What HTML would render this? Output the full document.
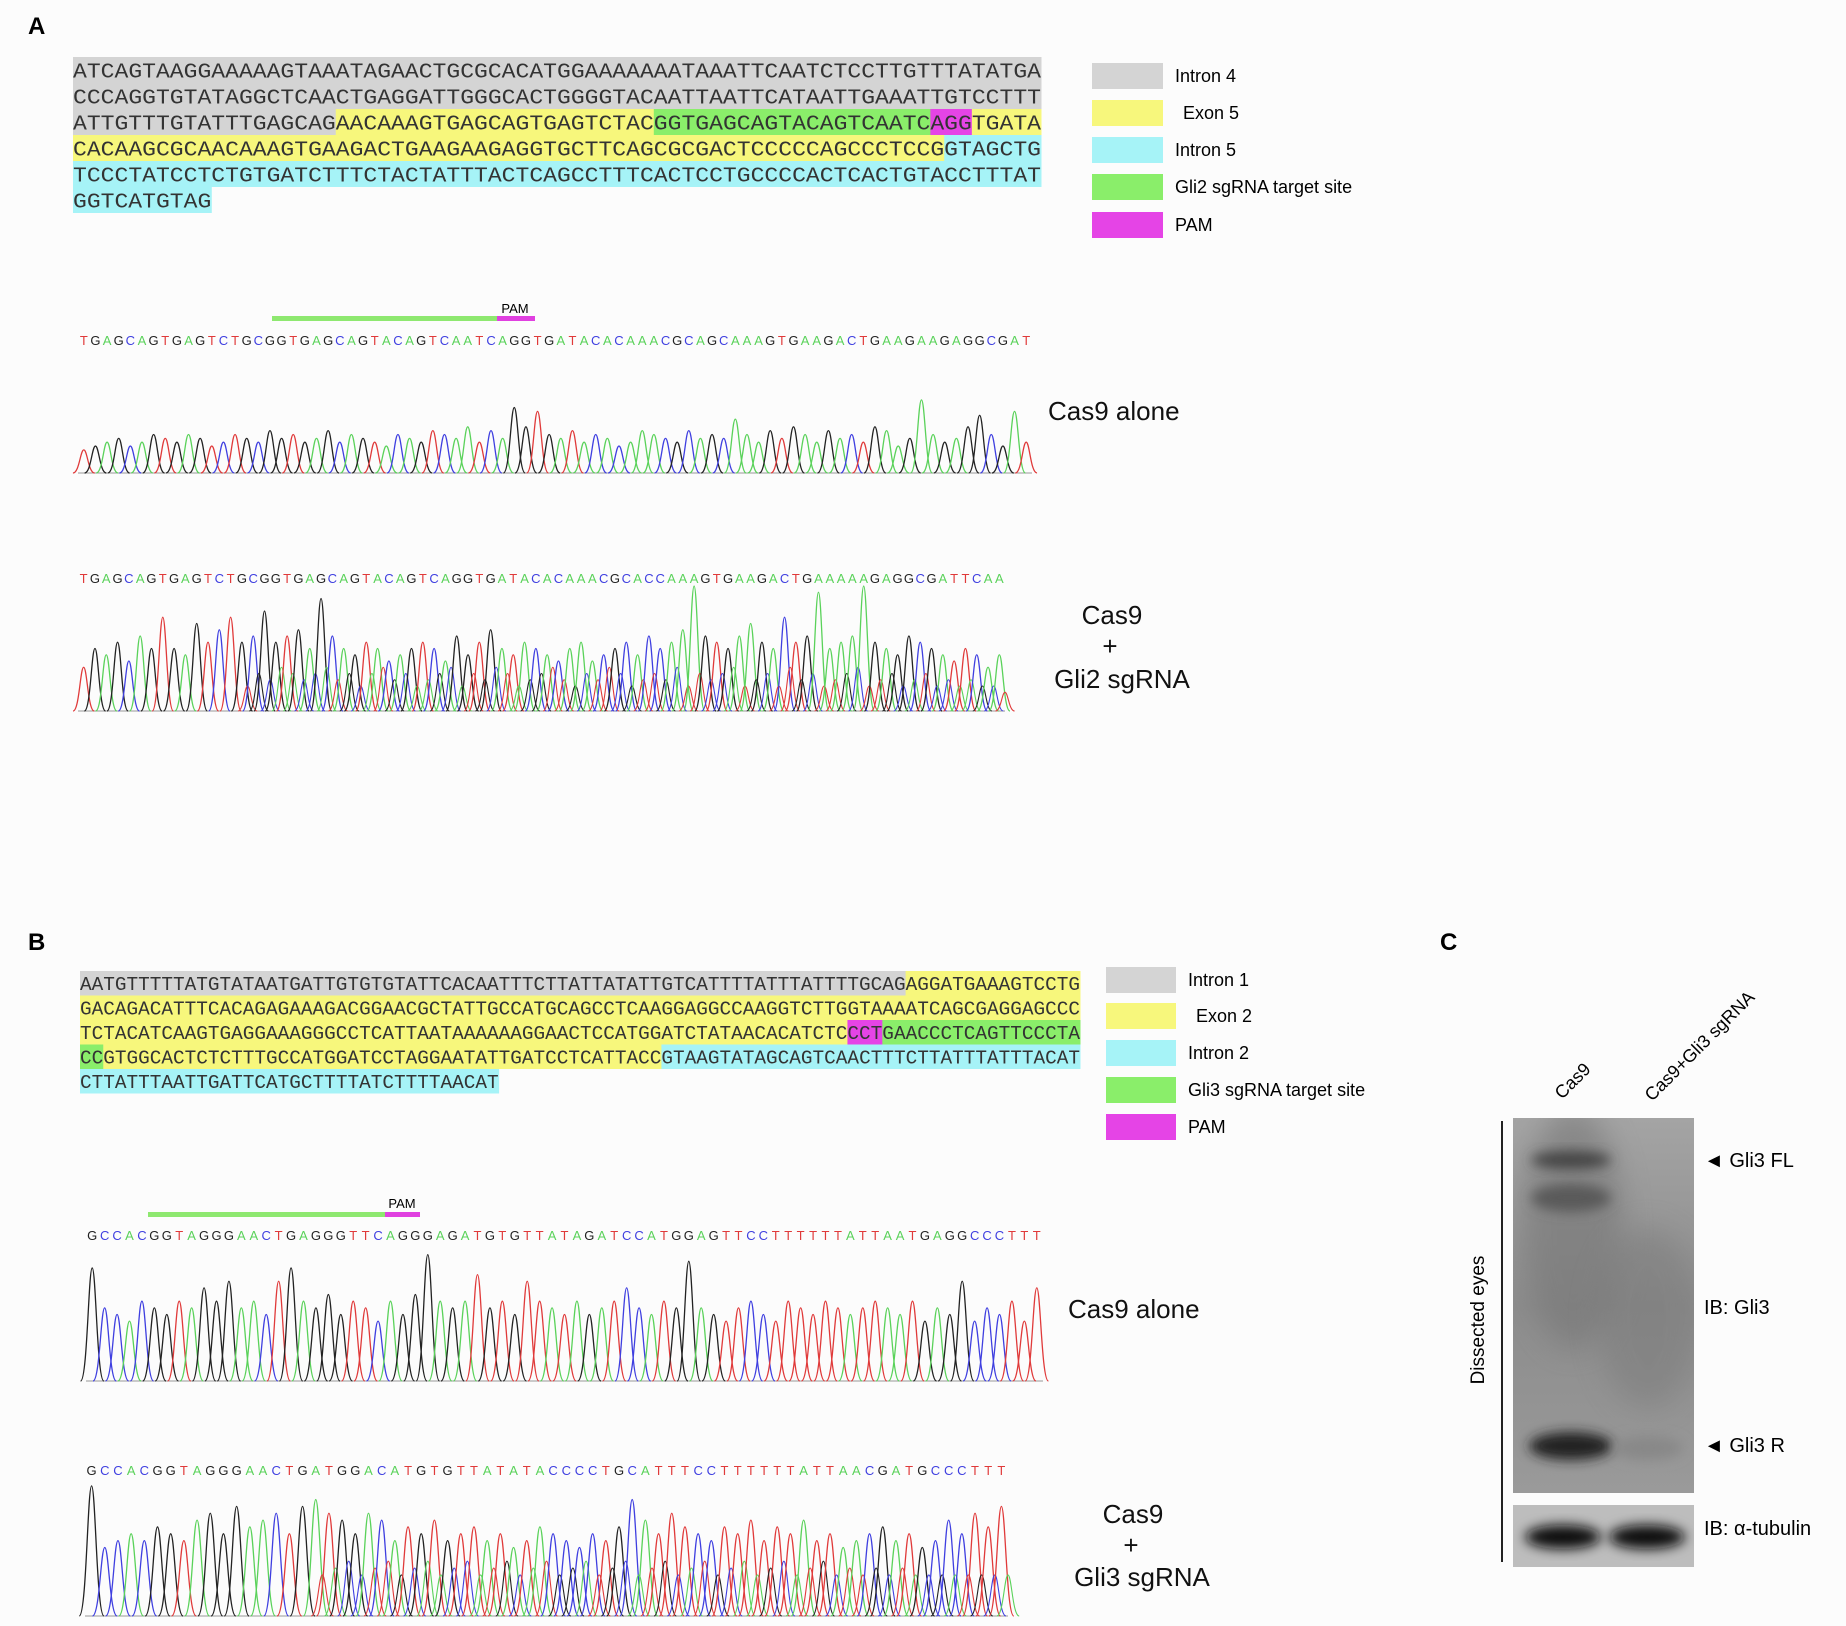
<!DOCTYPE html>
<html><head><meta charset="utf-8"><style>
html,body{margin:0;padding:0;background:#fcfcfc}
svg{display:block}
text{font-family:"Liberation Sans",sans-serif}
.seq{font-family:"Liberation Mono",monospace;fill:#333}
</style></head><body>
<svg id="fig" width="1846" height="1626" viewBox="0 0 1846 1626" xmlns="http://www.w3.org/2000/svg">
<defs>
<filter id="blur6" x="-50%" y="-50%" width="200%" height="200%"><feGaussianBlur stdDeviation="6"/></filter>
<filter id="blur14" x="-50%" y="-50%" width="200%" height="200%"><feGaussianBlur stdDeviation="14"/></filter>
<linearGradient id="blotg" x1="0" y1="0" x2="0" y2="1"><stop offset="0" stop-color="#a4a4a4"/><stop offset="0.5" stop-color="#8c8c8c"/><stop offset="1" stop-color="#9a9a9a"/></linearGradient>
</defs>
<rect width="1846" height="1626" fill="#fcfcfc"/>
<g font-weight="bold" font-size="24">
<text x="28" y="34">A</text>
<text x="28" y="950">B</text>
<text x="1440" y="950">C</text>
</g>
<g id="seqA"></g>
<g id="seqB"></g>
<g id="legA"></g>
<g id="legB"></g>
<g id="chroms"></g>
<g font-size="26" fill="#111">
<text x="1048" y="420">Cas9 alone</text>
<text x="1112" y="624" text-anchor="middle">Cas9</text>
<text x="1110" y="655" text-anchor="middle">+</text>
<text x="1122" y="688" text-anchor="middle">Gli2 sgRNA</text>
<text x="1068" y="1318">Cas9 alone</text>
<text x="1133" y="1523" text-anchor="middle">Cas9</text>
<text x="1131" y="1554" text-anchor="middle">+</text>
<text x="1142" y="1586" text-anchor="middle">Gli3 sgRNA</text>
</g>
<!-- target bars -->
<g>
<rect x="272" y="316" width="225" height="5" fill="#8ee870"/>
<rect x="497" y="316" width="38" height="5" fill="#e040e0"/>
<text x="515" y="313" font-size="13" text-anchor="middle">PAM</text>
<rect x="148" y="1212" width="237" height="5" fill="#8ee870"/>
<rect x="385" y="1212" width="35" height="5" fill="#e040e0"/>
<text x="402" y="1208" font-size="13" text-anchor="middle">PAM</text>
</g>
<!-- Western blot -->
<g>
<line x1="1502" y1="1121" x2="1502" y2="1562" stroke="#222" stroke-width="2"/>
<text transform="translate(1484,1320) rotate(-90)" font-size="19" text-anchor="middle">Dissected eyes</text>
<text transform="translate(1562,1100) rotate(-45)" font-size="18">Cas9</text>
<text transform="translate(1652,1102) rotate(-45)" font-size="18">Cas9+Gli3 sgRNA</text>
<svg x="1513" y="1118" width="181" height="375" overflow="hidden">
<rect width="181" height="375" fill="url(#blotg)"/>
<ellipse cx="60" cy="110" rx="50" ry="120" fill="#777" filter="url(#blur14)" opacity="0.6"/>
<ellipse cx="135" cy="200" rx="50" ry="90" fill="#7a7a7a" filter="url(#blur14)" opacity="0.5"/>
<ellipse cx="58" cy="42" rx="40" ry="9" fill="#444" filter="url(#blur6)"/>
<ellipse cx="58" cy="80" rx="40" ry="14" fill="#5a5a5a" filter="url(#blur6)"/>
<ellipse cx="58" cy="328" rx="42" ry="14" fill="#222" filter="url(#blur6)"/>
<ellipse cx="135" cy="330" rx="35" ry="12" fill="#888" filter="url(#blur6)"/>
</svg>
<svg x="1513" y="1505" width="181" height="62" overflow="hidden">
<rect width="181" height="62" fill="#bdbdbd"/>
<ellipse cx="50" cy="32" rx="38" ry="12" fill="#111" filter="url(#blur6)"/>
<ellipse cx="134" cy="32" rx="38" ry="12" fill="#111" filter="url(#blur6)"/>
</svg>
<g font-size="20">
<text x="1704" y="1167">◄ Gli3 FL</text>
<text x="1704" y="1314">IB: Gli3</text>
<text x="1704" y="1452">◄ Gli3 R</text>
<text x="1704" y="1535">IB: α-tubulin</text>
</g>
</g>
</svg>
<script>
// ---------- data ----------
const seqALines=[
 [["ATCAGTAAGGAAAAAGTAAATAGAACTGCGCACATGGAAAAAAATAAATTCAATCTCCTTGTTTATATGA","g"]],
 [["CCCAGGTGTATAGGCTCAACTGAGGATTGGGCACTGGGGTACAATTAATTCATAATTGAAATTGTCCTTT","g"]],
 [["ATTGTTTGTATTTGAGCAG","g"],["AACAAAGTGAGCAGTGAGTCTAC","y"],["GGTGAGCAGTACAGTCAATC","gr"],["AGG","m"],["TGATA","y"]],
 [["CACAAGCGCAACAAAGTGAAGACTGAAGAAGAGGTGCTTCAGCGCGACTCCCCCAGCCCTCCG","y"],["GTAGCTG","c"]],
 [["TCCCTATCCTCTGTGATCTTTCTACTATTTACTCAGCCTTTCACTCCTGCCCCACTCACTGTACCTTTAT","c"]],
 [["GGTCATGTAG","c"]]
];
const seqBLines=[
 [["AATGTTTTTATGTATAATGATTGTGTGTATTCACAATTTCTTATTATATTGTCATTTTATTTATTTTGCAG","g"],["AGGATGAAAGTCCTG","y"]],
 [["GACAGACATTTCACAGAGAAAGACGGAACGCTATTGCCATGCAGCCTCAAGGAGGCCAAGGTCTTGGTAAAATCAGCGAGGAGCCC","y"]],
 [["TCTACATCAAGTGAGGAAAGGGCCTCATTAATAAAAAAGGAACTCCATGGATCTATAACACATCTC","y"],["CCT","m"],["GAACCCTCAGTTCCCTA","gr"]],
 [["CC","gr"],["GTGGCACTCTCTTTGCCATGGATCCTAGGAATATTGATCCTCATTACC","y"],["GTAAGTATAGCAGTCAACTTTCTTATTTATTTACAT","c"]],
 [["CTTATTTAATTGATTCATGCTTTTATCTTTTAACAT","c"]]
];
const legendALabels=["Intron 4","Exon 5","Intron 5","Gli2 sgRNA target site","PAM"];
const legendBLabels=["Intron 1","Exon 2","Intron 2","Gli3 sgRNA target site","PAM"];
const legendKeys=["g","y","c","gr","m"];

const chrom1Bases="TGAGCAGTGAGTCTGCGGTGAGCAGTACAGTCAATCAGGTGATACACAAACGCAGCAAAGTGAAGACTGAAGAAGAGGCGAT";
const chrom1Heights=[0.3,0.35,0.4,0.45,0.35,0.4,0.5,0.45,0.4,0.5,0.45,0.35,0.4,0.5,0.45,0.4,0.55,0.45,0.5,0.4,0.45,0.55,0.4,0.5,0.45,0.4,0.35,0.5,0.45,0.4,0.55,0.5,0.45,0.6,0.4,0.55,0.45,0.85,0.6,0.8,0.5,0.45,0.55,0.4,0.5,0.45,0.35,0.4,0.55,0.5,0.45,0.4,0.55,0.45,0.5,0.45,0.7,0.5,0.4,0.55,0.45,0.6,0.5,0.4,0.55,0.45,0.5,0.4,0.6,0.55,0.35,0.45,0.95,0.5,0.4,0.45,0.6,0.75,0.5,0.35,0.8,0.4];
const chrom2Bases="TGAGCAGTGAGTCTGCGGTGAGCAGTACAGTCAGGTGATACACAAACGCACCAAAGTGAAGACTGAAAAAGAGGCGATTCAA";
const chrom2Heights=[0.35,0.5,0.45,0.55,0.4,0.6,0.5,0.75,0.5,0.45,0.7,0.55,0.65,0.75,0.55,0.6,0.8,0.55,0.6,0.65,0.5,0.9,0.6,0.5,0.45,0.55,0.5,0.4,0.45,0.5,0.55,0.5,0.4,0.6,0.45,0.55,0.65,0.5,0.45,0.55,0.5,0.45,0.4,0.5,0.55,0.4,0.45,0.5,0.55,0.45,0.6,0.5,0.55,0.65,1.0,0.6,0.55,0.5,0.6,0.7,0.55,0.5,0.75,0.55,0.6,0.95,0.5,0.55,0.6,1.0,0.55,0.5,0.45,0.6,0.55,0.5,0.45,0.4,0.5,0.45,0.35,0.45,0.4];
const chrom2Noise=[0,0,0,0,0,0,0,0,0,0,0,0,0,0,0.2,0.3,0.25,0.35,0.3,0.25,0.3,0.35,0.25,0.3,0.2,0.3,0.35,0.25,0.3,0.2,0.25,0.3,0.35,0.2,0.3,0.25,0.35,0.3,0.2,0.25,0.3,0.35,0.25,0.2,0.3,0.25,0.35,0.3,0.2,0.25,0.3,0.25,0.35,0.2,0.3,0.25,0.3,0.35,0.2,0.25,0.3,0.2,0.35,0.25,0.3,0.2,0.25,0.3,0.35,0.2,0.25,0.3,0.2,0.25,0.3,0.2,0.25,0.2,0.25,0.2,0.2,0.15,0.15];
const chrom3Bases="GCCACGGTAGGGAACTGAGGGTTCAGGGAGATGTGTTATAGATCCATGGAGTTCCTTTTTTATTAATGAGGCCCTTT";
const chrom3Heights=[0.85,0.55,0.5,0.45,0.6,0.55,0.5,0.6,0.55,0.7,0.6,0.75,0.55,0.6,0.5,0.75,0.85,0.6,0.55,0.65,0.5,0.6,0.55,0.45,0.6,0.5,0.65,0.95,0.6,0.55,0.6,0.8,0.55,0.6,0.5,0.75,0.6,0.55,0.5,0.6,0.5,0.55,0.6,0.7,0.55,0.5,0.6,0.55,0.9,0.55,0.5,0.45,0.55,0.6,0.5,0.45,0.6,0.55,0.5,0.6,0.55,0.5,0.55,0.6,0.55,0.5,0.6,0.45,0.55,0.5,0.75,0.45,0.55,0.5,0.6,0.45,0.7,0.75];
const chrom3Noise=[];
const chrom4Bases="GCCACGGTAGGGAACTGATGGACATGTGTTATATACCCCTGCATTTCCTTTTTTATTAACGATGCCCTTT";
const chrom4Heights=[0.95,0.5,0.55,0.6,0.55,0.65,0.6,0.55,0.7,0.75,0.6,0.8,0.65,0.7,0.75,0.6,0.8,0.85,0.75,0.7,0.6,0.75,0.7,0.55,0.65,0.6,0.7,0.55,0.6,0.65,0.55,0.6,0.5,0.55,0.65,0.6,0.55,0.5,0.6,0.55,0.65,0.85,0.7,0.6,0.75,0.65,0.6,0.55,0.65,0.6,0.7,0.55,0.65,0.6,0.7,0.55,0.6,0.5,0.55,0.6,0.65,0.55,0.6,0.5,0.55,0.7,0.6,0.75,0.65,0.8];
const chrom4Noise=[0,0,0,0,0,0,0,0,0,0,0,0,0,0,0,0,0,0.3,0.35,0.4,0.3,0.35,0.4,0.3,0.35,0.4,0.3,0.35,0.4,0.3,0.35,0.4,0.3,0.35,0.4,0.3,0.35,0.4,0.3,0.35,0.4,0.3,0.35,0.4,0.3,0.35,0.4,0.3,0.35,0.4,0.3,0.35,0.4,0.3,0.35,0.4,0.3,0.35,0.3,0.35,0.3,0.35,0.3,0.3,0.3,0.3,0.3,0.3,0.3,0.3];

// ---------- drawing ----------
const NS="http://www.w3.org/2000/svg";
const HL={g:"#d4d4d4",y:"#f7f77c",c:"#a6f3f7",gr:"#8aee6a",m:"#e544e6"};
const BASEC={A:"#5ad25a",C:"#3f3fe0",G:"#222222",T:"#e03a3a"};
function mk(tag,attrs,parent){const e=document.createElementNS(NS,tag);for(const k in attrs)e.setAttribute(k,attrs[k]);parent.appendChild(e);return e;}

function drawSeq(g,lines,x0,x1,y0,rowH,fs){
  let maxLen=0;lines.forEach(l=>{let n=0;l.forEach(s=>n+=s[0].length);maxLen=Math.max(maxLen,n);});
  const cw=(x1-x0)/maxLen;
  lines.forEach((l,r)=>{
    let ci=0;const y=y0+r*rowH;
    l.forEach(s=>{
      const w=s[0].length*cw;
      const rc=mk("rect",{x:x0+ci*cw,y:y,width:w+0.5,height:rowH,fill:HL[s[1]]},g);
      
      
      const t=mk("text",{x:x0+ci*cw,y:y+rowH*0.78,"font-size":fs,textLength:w,lengthAdjust:"spacingAndGlyphs",class:"seq"},g);
      t.textContent=s[0];
      
      
      ci+=s[0].length;
    });
  });
}
drawSeq(document.getElementById('seqA'),seqALines,73,1041,57,26,21);
drawSeq(document.getElementById('seqB'),seqBLines,80,1080,971,24.5,19);

function drawLegend(g,labels,x,ys,bw,bh,tx){
  labels.forEach((lb,i)=>{
    const r=mk("rect",{x:x,y:ys[i]-bh/2,width:bw,height:bh,fill:HL[legendKeys[i]]},g);
    
    
    const t=mk("text",{x:tx+(i==1?8:0),y:ys[i]+6,"font-size":18},g);
    t.textContent=lb;
    
    
  });
}
drawLegend(document.getElementById('legA'),legendALabels,1092,[76,113,150,187,225],71,26,1175);
drawLegend(document.getElementById('legB'),legendBLabels,1106,[980,1016,1053,1090,1127],70,26,1188);

function peakPath(x,b,h,s){return `M${x-1.7*s},${b} C${x-0.7*s},${b} ${x-0.55*s},${b-h} ${x},${b-h} C${x+0.55*s},${b-h} ${x+0.7*s},${b} ${x+1.7*s},${b}`;}
function drawChrom(bases,heights,noise,x0,x1,base,top,letterY){
  const g=document.getElementById('chroms');
  const n=Math.min(bases.length,heights.length);
  const step=(x1-x0)/n, H=base-top;
  const cg=mk("g",{},g);
  
  
  mk("line",{x1:x0,y1:base,x2:x1,y2:base,stroke:"#999","stroke-width":1},cg);
  for(let i=0;i<n;i++){
    const b=bases[i],x=x0+(i+0.5)*step;
    const t=mk("text",{x:x,y:letterY,"font-size":13,"text-anchor":"middle",fill:BASEC[b],"font-family":"Liberation Serif, serif"},cg);
    t.textContent=b;
    
    
    const p=mk("path",{d:peakPath(x,base,heights[i]*H,step*0.55),fill:"none",stroke:BASEC[b],"stroke-width":1.3},cg);
    
    
    if(noise&&noise[i]){
      const nb="ACGT"[(i*3+1)%4]===b?"ACGT"[(i+2)%4]:"ACGT"[(i*3+1)%4];
      const q=mk("path",{d:peakPath(x+step*0.5,base,noise[i]*H,step*0.5),fill:"none",stroke:BASEC[nb],"stroke-width":1.1},cg);
      
      
    }
  }
}
drawChrom(chrom1Bases,chrom1Heights,null,78,1032,473,396,345);
drawChrom(chrom2Bases,chrom2Heights,chrom2Noise,78,1005,711,586,583);
drawChrom(chrom3Bases,chrom3Heights,chrom3Noise,86,1043,1381,1248,1240);
drawChrom(chrom4Bases,chrom4Heights,chrom4Noise,85,1008,1616,1479,1475);
</script>
</body></html>
